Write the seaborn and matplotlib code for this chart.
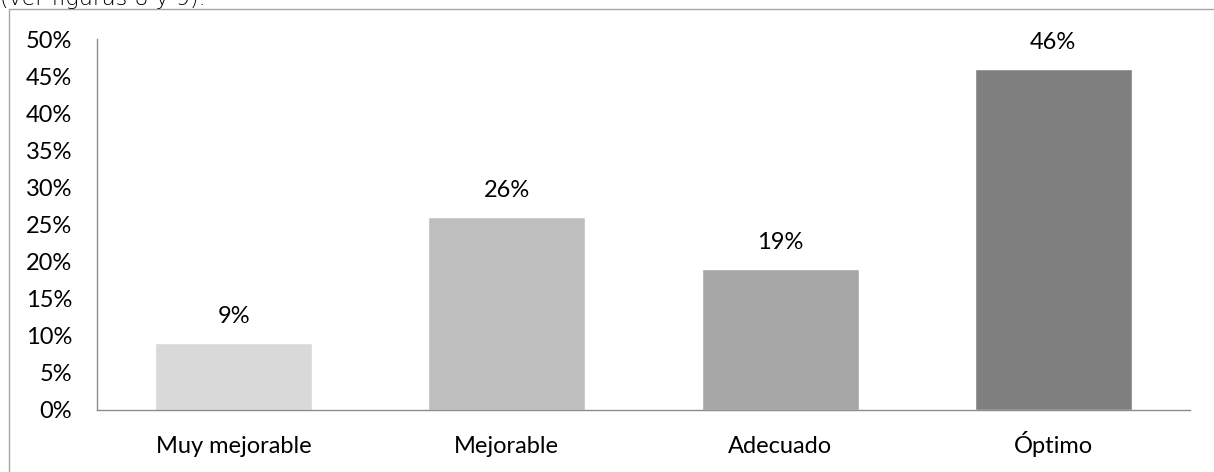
import matplotlib
matplotlib.use("Agg")
import matplotlib.pyplot as plt
import seaborn as sns
import pandas as pd
from matplotlib.patches import Rectangle

# data
categories = ["Muy mejorable", "Mejorable", "Adecuado", "Óptimo"]
values = [0.09, 0.26, 0.19, 0.46]
bar_colors = ["#D9D9D9", "#BFBFBF", "#A6A6A6", "#7F7F7F"]
y_ticks = [0.0, 0.05, 0.10, 0.15, 0.20, 0.25, 0.30, 0.35, 0.40, 0.45, 0.50]

sns.set_theme(style="white")
plt.rcParams["font.family"] = ["Lato", "DejaVu Sans"]

df = pd.DataFrame({"categoria": categories, "valor": values})

fig = plt.figure(figsize=(12.14, 4.72), dpi=100)
ax = fig.add_axes([97 / 1214, 62 / 472, 1093 / 1214, 371 / 472])

sns.barplot(data=df, x="categoria", y="valor", hue="categoria",
            palette=bar_colors, width=0.575, saturation=1, legend=False, ax=ax)

for i, v in enumerate(values):
    ax.annotate(f"{v * 100:.0f}%", (i, v), xytext=(0, 19), textcoords="offset points",
                ha="center", va="center", fontsize=17, color="black")

ax.set_ylim(0, 0.5)
ax.set_xlim(-0.5, len(categories) - 0.5)
ax.set_yticks(y_ticks)
ax.set_yticklabels([f"{t * 100:.0f}%" for t in y_ticks])
ax.tick_params(axis="y", length=0, pad=18, labelsize=17, labelcolor="black")
ax.tick_params(axis="x", length=0, pad=31, labelsize=17, labelcolor="black")
for lbl in ax.get_xticklabels():
    lbl.set_verticalalignment("baseline")
ax.set_xlabel("")
ax.set_ylabel("")

for side in ["top", "right"]:
    ax.spines[side].set_visible(False)
for side in ["left", "bottom"]:
    ax.spines[side].set_color("#8C8C8C")
    ax.spines[side].set_linewidth(1)

# outer chart frame (runs off the right and bottom of the crop)
fig.patches.append(Rectangle((9 / 1214, -0.1), 1.2, 1.1 - 9 / 472,
                             transform=fig.transFigure, fill=False,
                             edgecolor="#A6A6A6", linewidth=1))

# caption text cut by the top edge, as in the reference
fig.text(0.0, 1 - 5 / 472, "(ver figuras 8 y 9).", ha="left", va="baseline",
         fontsize=16, color="black", family=["DejaVu Sans"], fontweight="light")

fig.savefig("out.png", dpi=100)
